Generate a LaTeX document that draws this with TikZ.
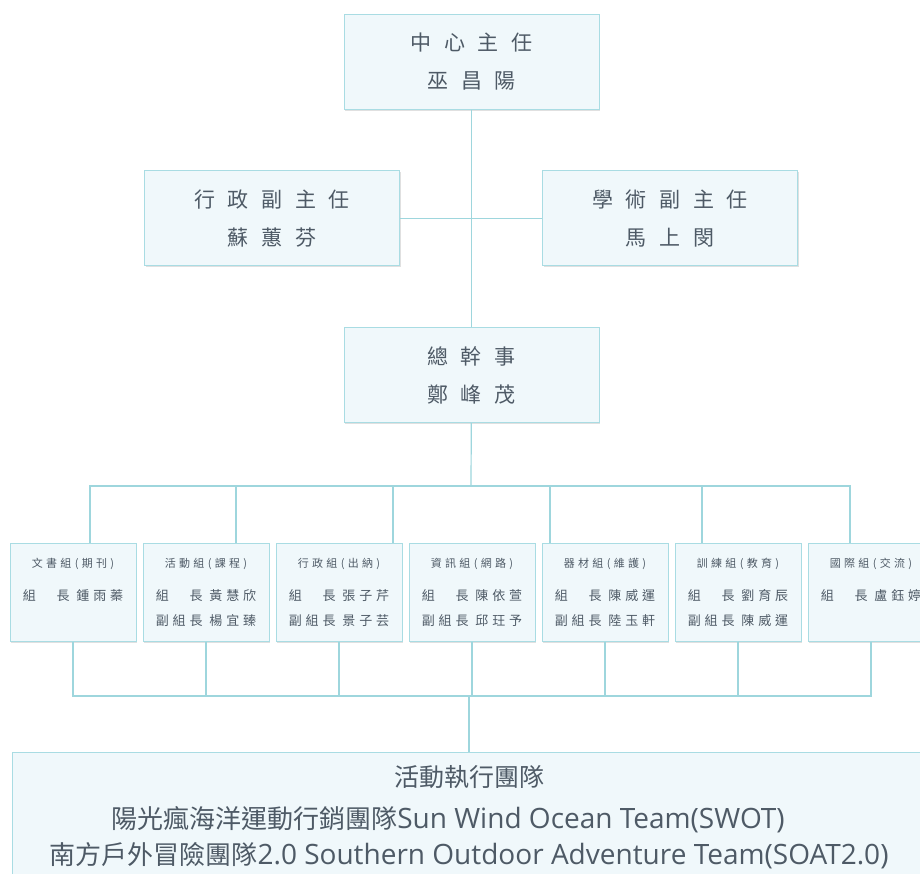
\documentclass[tikz,border=0pt]{standalone}
\usepackage{fontspec}
\setmainfont{Noto Sans CJK TC}
\newfontfamily\wide[LetterSpace=60]{Noto Sans CJK TC}
\newfontfamily\semi[LetterSpace=30]{Noto Sans CJK TC}
\newfontfamily\latin{Open Sans}
\usetikzlibrary{shadows}
\definecolor{boxline}{HTML}{A9DCE3}
\definecolor{boxfill}{HTML}{F0F8FB}
\definecolor{wirecol}{HTML}{9ED6DD}
\definecolor{ink}{HTML}{4E5A66}
\tikzset{
  softshadow/.style={drop shadow={shadow xshift=1pt, shadow yshift=-1.5pt, opacity=0.12, fill=black}},
  bigbox/.style={draw=boxline, fill=boxfill, line width=1pt, softshadow,
    minimum width=255pt, minimum height=95pt, inner sep=0pt, align=center,
    text=ink, font=\wide\fontsize{21}{38}\selectfont},
  grpbox/.style={draw=boxline, fill=boxfill, line width=1pt, softshadow,
    minimum width=126pt, minimum height=98pt, inner sep=0pt, align=center,
    text=ink, font=\semi\fontsize{13}{25}\selectfont},
  teambox/.style={draw=boxline, fill=boxfill, line width=1pt,
    minimum width=914pt, minimum height=130pt, inner sep=0pt, align=center,
    text=ink, font=\fontsize{26}{36}\selectfont},
  wire/.style={draw=wirecol, line width=1.2pt}
}
\newcommand{\grptitle}[1]{{\fontsize{11}{25}\selectfont #1}}
\newcommand{\teamlatin}[1]{{\latin\fontsize{28}{36}\selectfont #1}}
\begin{document}
\begin{tikzpicture}[x=1pt, y=-1pt]
  \useasboundingbox[fill=white] (0,0) rectangle (920,874);

  % 主任與副主任
  \node[bigbox] (ctr) at (471.5,62) {中心主任\\巫昌陽};
  \node[bigbox] (admin) at (272,218.5) {行政副主任\\蘇蕙芬};
  \node[bigbox] (acad) at (670,218.5) {學術副主任\\馬上閔};
  \node[bigbox] (gen) at (471.5,375) {總幹事\\鄭峰茂};

  \draw[wire] (ctr) -- (gen);
  \draw[wire] (admin) -- (acad);

  % 各組
  \node[grpbox] (g1) at (73,592) {\grptitle{文書組(期刊)}\\[8pt]組　長 鍾雨蓁\\~};
  \node[grpbox] (g2) at (206,592) {\grptitle{活動組(課程)}\\[8pt]組　長 黃慧欣\\副組長 楊宜臻};
  \node[grpbox] (g3) at (339,592) {\grptitle{行政組(出納)}\\[8pt]組　長 張子芹\\副組長 景子芸};
  \node[grpbox] (g4) at (472,592) {\grptitle{資訊組(網路)}\\[8pt]組　長 陳依萱\\副組長 邱玨予};
  \node[grpbox] (g5) at (605,592) {\grptitle{器材組(維護)}\\[8pt]組　長 陳威運\\副組長 陸玉軒};
  \node[grpbox] (g6) at (738,592) {\grptitle{訓練組(教育)}\\[8pt]組　長 劉育辰\\副組長 陳威運};
  \node[grpbox] (g7) at (871,592) {\grptitle{國際組(交流)}\\[8pt]組　長 盧鈺婷\\~};

  \coordinate (bar) at (471,486);
  \draw[wire] (gen) -- (bar);
  \foreach \n/\d in {g1/17, g2/30, g3/54, g5/-55, g6/-36, g7/-21}
    \draw[wire] ([xshift=\d pt]\n.north) |- (bar);

  % 活動執行團隊
  \node[teambox, anchor=north] (team) at (469,752)
    {{\fontsize{25}{36}\selectfont 活動執行團隊}\\[6pt]
     陽光瘋海洋運動行銷團隊\teamlatin{Sun Wind Ocean Team(SWOT)}\hspace*{42pt}\mbox{}\\
     南方戶外冒險團隊\teamlatin{2.0 Southern Outdoor Adventure Team(SOAT2.0)}};

  \coordinate (join) at (469,696);
  \foreach \n in {g1,g2,g3,g4,g5,g6,g7}
    \draw[wire] (\n.south) |- (join);
  \draw[wire] (join) -- (team.north);
\end{tikzpicture}
\end{document}
